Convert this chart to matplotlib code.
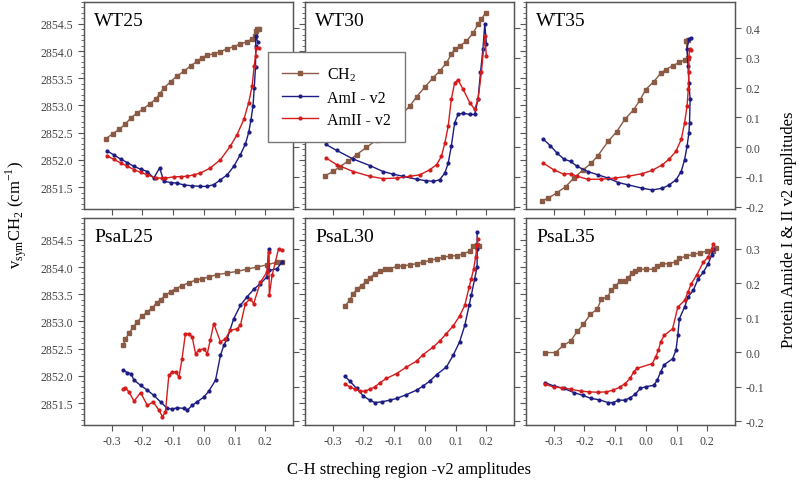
import numpy as np
import matplotlib
matplotlib.use('Agg')
import matplotlib.pyplot as plt
from matplotlib.ticker import MultipleLocator

plt.rcParams['font.family'] = ['Liberation Serif', 'DejaVu Serif']

# ---- WT25 ----
wt25_ch2_x = [-0.319, -0.297, -0.276, -0.255, -0.238, -0.218, -0.197, -0.176, -0.156, -0.143, -0.130, -0.108, -0.087, -0.065,
              -0.043, -0.022, -0.006, 0.010, 0.032, 0.054, 0.076, 0.097, 0.119, 0.140, 0.157, 0.165, 0.168, 0.172, 0.178]
wt25_ch2_y = [2852.39, 2852.48, 2852.56, 2852.66, 2852.77, 2852.86, 2852.94, 2853.03, 2853.12, 2853.22, 2853.32, 2853.44, 2853.54, 2853.63,
              2853.73, 2853.81, 2853.88, 2853.92, 2853.95, 2853.99, 2854.04, 2854.08, 2854.13, 2854.17, 2854.22, 2854.27, 2854.37, 2854.41, 2854.41]
wt25_am1_x = [-0.316, -0.293, -0.271, -0.249, -0.227, -0.206, -0.184, -0.163, -0.144, -0.130, -0.108, -0.087, -0.065, -0.038, -0.011,
              0.011, 0.032, 0.054, 0.076, 0.097, 0.119, 0.135, 0.146, 0.153, 0.160, 0.164, 0.168, 0.169, 0.168, 0.175]
wt25_am1_r = [-0.012, -0.026, -0.040, -0.052, -0.065, -0.074, -0.082, -0.104, -0.070, -0.115, -0.119, -0.121, -0.127, -0.130, -0.132,
              -0.132, -0.126, -0.110, -0.093, -0.065, -0.025, 0.010, 0.050, 0.090, 0.140, 0.200, 0.270, 0.341, 0.373, 0.355]
wt25_am2_x = [-0.316, -0.293, -0.271, -0.249, -0.227, -0.206, -0.184, -0.157, -0.135, -0.125, -0.098, -0.076, -0.054, -0.033, -0.011,
              0.021, 0.054, 0.086, 0.108, 0.130, 0.146, 0.157, 0.164, 0.168, 0.171, 0.178]
wt25_am2_r = [-0.029, -0.041, -0.053, -0.064, -0.076, -0.085, -0.093, -0.104, -0.104, -0.104, -0.100, -0.099, -0.098, -0.093, -0.087,
              -0.070, -0.042, 0.003, 0.042, 0.093, 0.150, 0.206, 0.274, 0.307, 0.332, 0.332]

# ---- WT30 ----
wt30_ch2_x = [-0.325, -0.298, -0.276, -0.249, -0.222, -0.190, -0.157, -0.125, -0.098, -0.076, -0.049, -0.027, 0.000, 0.027,
              0.048, 0.070, 0.086, 0.097, 0.113, 0.135, 0.157, 0.173, 0.184, 0.198]
wt30_ch2_y = [2851.71, 2851.79, 2851.88, 2851.98, 2852.10, 2852.23, 2852.37, 2852.52, 2852.67, 2852.83, 2852.99, 2853.16, 2853.34, 2853.51,
              2853.63, 2853.78, 2853.94, 2854.03, 2854.09, 2854.18, 2854.33, 2854.49, 2854.59, 2854.70]
wt30_am1_x = [-0.322, -0.287, -0.233, -0.179, -0.136, -0.103, -0.071, -0.027, 0.005, 0.027, 0.048, 0.065, 0.076, 0.086,
              0.097, 0.108, 0.124, 0.146, 0.162, 0.173, 0.181, 0.189, 0.195, 0.200]
wt30_am1_r = [0.009, -0.011, -0.040, -0.062, -0.082, -0.091, -0.098, -0.108, -0.113, -0.115, -0.110, -0.087, -0.053, 0.003,
              0.082, 0.110, 0.114, 0.110, 0.110, 0.161, 0.251, 0.330, 0.415, 0.347]
wt30_am2_x = [-0.322, -0.287, -0.233, -0.179, -0.136, -0.092, -0.049, -0.016, 0.016, 0.038, 0.054, 0.065, 0.076, 0.086,
              0.097, 0.108, 0.124, 0.146, 0.162, 0.173, 0.184, 0.195, 0.200]
wt30_am2_r = [-0.036, -0.059, -0.082, -0.098, -0.106, -0.104, -0.098, -0.093, -0.076, -0.059, -0.031, 0.014, 0.071, 0.161,
              0.217, 0.226, 0.195, 0.150, 0.127, 0.161, 0.251, 0.375, 0.308]

# ---- WT35 ----
wt35_ch2_x = [-0.339, -0.317, -0.289, -0.261, -0.234, -0.206, -0.178, -0.156, -0.123, -0.095, -0.068, -0.040, -0.018, -0.001,
              0.026, 0.048, 0.065, 0.087, 0.109, 0.126, 0.137, 0.131, 0.137]
wt35_ch2_y = [2851.25, 2851.30, 2851.40, 2851.51, 2851.67, 2851.81, 2851.94, 2852.08, 2852.34, 2852.52, 2852.75, 2852.92, 2853.11, 2853.29,
              2853.44, 2853.59, 2853.66, 2853.73, 2853.79, 2853.84, 2853.87, 2854.18, 2854.21]
wt35_am1_x = [-0.335, -0.311, -0.289, -0.267, -0.245, -0.223, -0.189, -0.156, -0.123, -0.090, -0.057, -0.012, 0.021, 0.054,
              0.076, 0.098, 0.115, 0.126, 0.134, 0.140, 0.142, 0.144, 0.140, 0.137, 0.134, 0.140, 0.147]
wt35_am1_r = [0.028, 0.005, -0.020, -0.040, -0.048, -0.065, -0.082, -0.093, -0.104, -0.119, -0.127, -0.138, -0.144, -0.138,
              -0.127, -0.110, -0.082, -0.042, 0.003, 0.048, 0.082, 0.161, 0.217, 0.274, 0.330, 0.364, 0.366]
wt35_am2_x = [-0.335, -0.300, -0.267, -0.245, -0.223, -0.189, -0.145, -0.101, -0.057, -0.012, 0.021, 0.054, 0.076, 0.098,
              0.115, 0.126, 0.134, 0.138, 0.140, 0.140, 0.142, 0.148]
wt35_am2_r = [-0.053, -0.076, -0.091, -0.089, -0.098, -0.108, -0.108, -0.104, -0.098, -0.089, -0.078, -0.059, -0.040, -0.014,
              0.026, 0.082, 0.138, 0.195, 0.251, 0.302, 0.330, 0.328]

# ---- PsaL25 ----
psal25_ch2_x = [-0.262, -0.255, -0.244, -0.230, -0.217, -0.200, -0.184, -0.168, -0.154, -0.141, -0.125, -0.108, -0.092, -0.071,
                -0.049, -0.027, -0.006, 0.016, 0.043, 0.076, 0.108, 0.140, 0.173, 0.205, 0.238, 0.254]
psal25_ch2_y = [2852.56, 2852.68, 2852.78, 2852.90, 2852.99, 2853.10, 2853.18, 2853.25, 2853.34, 2853.40, 2853.48, 2853.55, 2853.60, 2853.66,
                2853.71, 2853.76, 2853.78, 2853.82, 2853.86, 2853.89, 2853.92, 2853.96, 2854.00, 2854.04, 2854.09, 2854.09]
psal25_am1_x = [-0.263, -0.249, -0.238, -0.227, -0.206, -0.184, -0.163, -0.141, -0.119, -0.103, -0.087, -0.065, -0.054, -0.038,
                -0.022, 0.000, 0.016, 0.038, 0.054, 0.065, 0.076, 0.097, 0.119, 0.140, 0.162, 0.184, 0.205, 0.211, 0.212, 0.238, 0.254]
psal25_am1_r = [-0.052, -0.059, -0.062, -0.081, -0.096, -0.110, -0.125, -0.144, -0.163, -0.165, -0.161, -0.163, -0.168, -0.154,
                -0.144, -0.130, -0.113, -0.081, -0.009, 0.020, 0.039, 0.097, 0.136, 0.160, 0.182, 0.199, 0.218, 0.300, 0.237, 0.242, 0.261]
psal25_am2_x = [-0.263, -0.255, -0.244, -0.227, -0.206, -0.184, -0.165, -0.146, -0.135, -0.125, -0.114, -0.103, -0.092, -0.081,
                -0.071, -0.060, -0.049, -0.038, -0.027, -0.016, 0.000, 0.011, 0.021, 0.032, 0.054, 0.070, 0.086, 0.108, 0.119,
                0.135, 0.151, 0.162, 0.184, 0.205, 0.211, 0.213, 0.222, 0.243, 0.254]
psal25_am2_r = [-0.107, -0.103, -0.115, -0.142, -0.117, -0.154, -0.144, -0.168, -0.187, -0.173, -0.067, -0.057, -0.057, -0.072,
                -0.019, 0.054, 0.054, 0.044, -0.004, 0.006, 0.010, -0.004, 0.035, 0.083, 0.030, 0.039, 0.063, 0.068, 0.078,
                0.141, 0.155, 0.141, 0.203, 0.232, 0.290, 0.165, 0.223, 0.300, 0.295]

# ---- PsaL30 ----
psal30_ch2_x = [-0.260, -0.244, -0.233, -0.220, -0.206, -0.190, -0.179, -0.163, -0.146, -0.130, -0.114, -0.092, -0.071, -0.049,
                -0.027, -0.006, 0.016, 0.038, 0.059, 0.081, 0.103, 0.124, 0.146, 0.157, 0.168, 0.176]
psal30_ch2_y = [2853.28, 2853.40, 2853.51, 2853.60, 2853.66, 2853.74, 2853.80, 2853.88, 2853.92, 2853.96, 2853.97, 2854.01, 2854.02, 2854.04,
                2854.06, 2854.09, 2854.12, 2854.15, 2854.18, 2854.20, 2854.21, 2854.24, 2854.29, 2854.38, 2854.41, 2854.39]
psal30_am1_x = [-0.260, -0.244, -0.222, -0.200, -0.179, -0.163, -0.141, -0.114, -0.092, -0.060, -0.027, -0.006, 0.016, 0.038,
                0.070, 0.092, 0.113, 0.130, 0.144, 0.151, 0.162, 0.170, 0.170, 0.170]
psal30_am1_r = [-0.070, -0.084, -0.105, -0.127, -0.139, -0.146, -0.144, -0.139, -0.134, -0.123, -0.110, -0.098, -0.084, -0.065,
                -0.043, -0.009, 0.030, 0.078, 0.136, 0.165, 0.213, 0.247, 0.300, 0.349]
psal30_am2_x = [-0.260, -0.244, -0.227, -0.211, -0.195, -0.179, -0.163, -0.146, -0.125, -0.092, -0.060, -0.027, -0.006, 0.027,
                0.048, 0.070, 0.092, 0.113, 0.130, 0.144, 0.151, 0.159, 0.165, 0.170, 0.173]
psal30_am2_r = [-0.091, -0.101, -0.107, -0.113, -0.113, -0.107, -0.101, -0.088, -0.076, -0.062, -0.043, -0.026, -0.007, 0.015,
                0.032, 0.054, 0.076, 0.105, 0.136, 0.189, 0.213, 0.242, 0.276, 0.310, 0.329]

# ---- PsaL35 ----
psal35_ch2_x = [-0.328, -0.294, -0.269, -0.245, -0.223, -0.203, -0.181, -0.158, -0.145, -0.126, -0.112, -0.099, -0.084, -0.068,
                -0.057, -0.046, -0.035, -0.023, -0.001, 0.026, 0.037, 0.054, 0.076, 0.098, 0.109, 0.131, 0.154, 0.176, 0.198,
                0.220, 0.229]
psal35_ch2_y = [2852.43, 2852.43, 2852.56, 2852.64, 2852.82, 2852.95, 2853.13, 2853.23, 2853.41, 2853.45, 2853.57, 2853.65, 2853.74, 2853.74,
                2853.80, 2853.89, 2853.93, 2853.96, 2853.96, 2853.96, 2854.01, 2854.06, 2854.06, 2854.10, 2854.16, 2854.20, 2854.23, 2854.26, 2854.29,
                2854.30, 2854.35]
psal35_am1_x = [-0.328, -0.300, -0.267, -0.234, -0.206, -0.178, -0.151, -0.123, -0.106, -0.090, -0.068, -0.051, -0.035, -0.018,
                -0.001, 0.026, 0.037, 0.048, 0.060, 0.087, 0.098, 0.104, 0.109, 0.126, 0.137, 0.154, 0.170, 0.187, 0.203,
                0.214, 0.220]
psal35_am1_r = [-0.088, -0.098, -0.105, -0.117, -0.125, -0.134, -0.138, -0.146, -0.146, -0.139, -0.139, -0.132, -0.122, -0.105,
                -0.100, -0.096, -0.081, -0.057, -0.036, -0.019, 0.006, 0.049, 0.097, 0.131, 0.160, 0.179, 0.213, 0.232, 0.257,
                0.281, 0.300]
psal35_am2_x = [-0.328, -0.300, -0.272, -0.245, -0.212, -0.184, -0.156, -0.129, -0.106, -0.084, -0.068, -0.051, -0.040, -0.029,
                0.021, 0.032, 0.041, 0.048, 0.060, 0.087, 0.104, 0.126, 0.137, 0.148, 0.165, 0.187, 0.203, 0.214, 0.220]
psal35_am2_r = [-0.093, -0.101, -0.103, -0.107, -0.113, -0.115, -0.116, -0.115, -0.110, -0.101, -0.091, -0.076, -0.057, -0.047,
                -0.033, -0.013, 0.006, 0.030, 0.049, 0.068, 0.131, 0.150, 0.174, 0.199, 0.223, 0.261, 0.276, 0.300, 0.315]

panel_names = ['WT25', 'WT30', 'WT35', 'PsaL25', 'PsaL30', 'PsaL35']
panels = [
    (wt25_ch2_x, wt25_ch2_y, wt25_am1_x, wt25_am1_r, wt25_am2_x, wt25_am2_r),
    (wt30_ch2_x, wt30_ch2_y, wt30_am1_x, wt30_am1_r, wt30_am2_x, wt30_am2_r),
    (wt35_ch2_x, wt35_ch2_y, wt35_am1_x, wt35_am1_r, wt35_am2_x, wt35_am2_r),
    (psal25_ch2_x, psal25_ch2_y, psal25_am1_x, psal25_am1_r, psal25_am2_x, psal25_am2_r),
    (psal30_ch2_x, psal30_ch2_y, psal30_am1_x, psal30_am1_r, psal30_am2_x, psal30_am2_r),
    (psal35_ch2_x, psal35_ch2_y, psal35_am1_x, psal35_am1_r, psal35_am2_x, psal35_am2_r),
]

c_ch2 = '#8a5a44'
c_am1 = '#1c1c82'
c_am2 = '#d41c1c'
frame = '#555555'
tick_col = '#555555'

W, H = 800, 485
fig = plt.figure(figsize=(8, 4.85), dpi=100)

col_left = [84, 305, 526]
col_w = 209
row_top = [3, 219]
row_h = 207
right_lims = [(-0.208, 0.488), (-0.211, 0.389)]

handles = None
for i, name in enumerate(panel_names):
    r, c = divmod(i, 3)
    rect = [col_left[c] / W, 1 - (row_top[r] + row_h) / H, col_w / W, row_h / H]
    ax = fig.add_axes(rect)
    ax2 = ax.twinx()
    cx, cy, a1x, a1r, a2x, a2r = panels[i]

    h1, = ax.plot(cx, cy, '-s', color=c_ch2, lw=1.0, ms=2.8, mec=c_ch2)
    h2, = ax2.plot(a1x, a1r, '-o', color=c_am1, lw=1.0, ms=2.0)
    h3, = ax2.plot(a2x, a2r, '-o', color=c_am2, lw=1.0, ms=2.0)
    handles = [h1, h2, h3]

    ax.set_xlim(-0.39, 0.29)
    ax.set_ylim(2851.1, 2854.9)
    ax2.set_ylim(*right_lims[r])

    ax.xaxis.set_major_locator(MultipleLocator(0.1))
    ax.yaxis.set_major_locator(MultipleLocator(0.5))
    ax.yaxis.set_minor_locator(MultipleLocator(0.1))
    ax2.yaxis.set_major_locator(MultipleLocator(0.1))

    ax.tick_params(axis='both', which='major', direction='out', length=4, width=0.8,
                   color=tick_col, labelcolor='#444444', labelsize=8.5)
    ax.tick_params(axis='y', which='minor', direction='out', length=2, width=0.6, color=tick_col)
    ax2.tick_params(axis='y', direction='out', length=4, width=0.8, color=tick_col,
                    labelcolor='#444444', labelsize=8.5)
    ax.xaxis.set_major_formatter(matplotlib.ticker.FormatStrFormatter('%.1f'))
    ax.yaxis.set_major_formatter(matplotlib.ticker.FormatStrFormatter('%.1f'))
    ax2.yaxis.set_major_formatter(matplotlib.ticker.FormatStrFormatter('%.1f'))

    if c != 0:
        ax.tick_params(axis='y', labelleft=False)
    if c != 2:
        ax2.tick_params(axis='y', labelright=False)
    if r == 0:
        ax.tick_params(axis='x', labelbottom=False)

    for a in (ax, ax2):
        for s in a.spines.values():
            s.set_color(frame)
            s.set_linewidth(0.9)

    ax.text(0.05, 0.95, name, transform=ax.transAxes, ha='left', va='top', fontsize=14)

fig.legend(handles, ['CH$_\\mathregular{2}$', 'AmI - v2', 'AmII - v2'],
           loc='upper left', bbox_to_anchor=(268 / W, 1 - 53 / H), borderaxespad=0, fontsize=11.5,
           frameon=True, fancybox=False, edgecolor='#777777', framealpha=1,
           handlelength=2.3, borderpad=0.85, labelspacing=0.4, handletextpad=0.55)

fig.text(409 / W, 1 - 470 / H, 'C-H streching region -v2 amplitudes', ha='center', va='center', fontsize=12)
fig.text(16 / W, 1 - 215 / H, 'v$_\\mathregular{sym}$CH$_\\mathregular{2}$ (cm$^\\mathregular{-1}$)',
         ha='center', va='center', rotation=90, fontsize=12)
fig.text(789 / W, 1 - 230 / H, 'Protein Amide I & II v2 amplitudes', ha='center', va='center',
         rotation=90, fontsize=12)

fig.savefig('out.png', dpi=100)
